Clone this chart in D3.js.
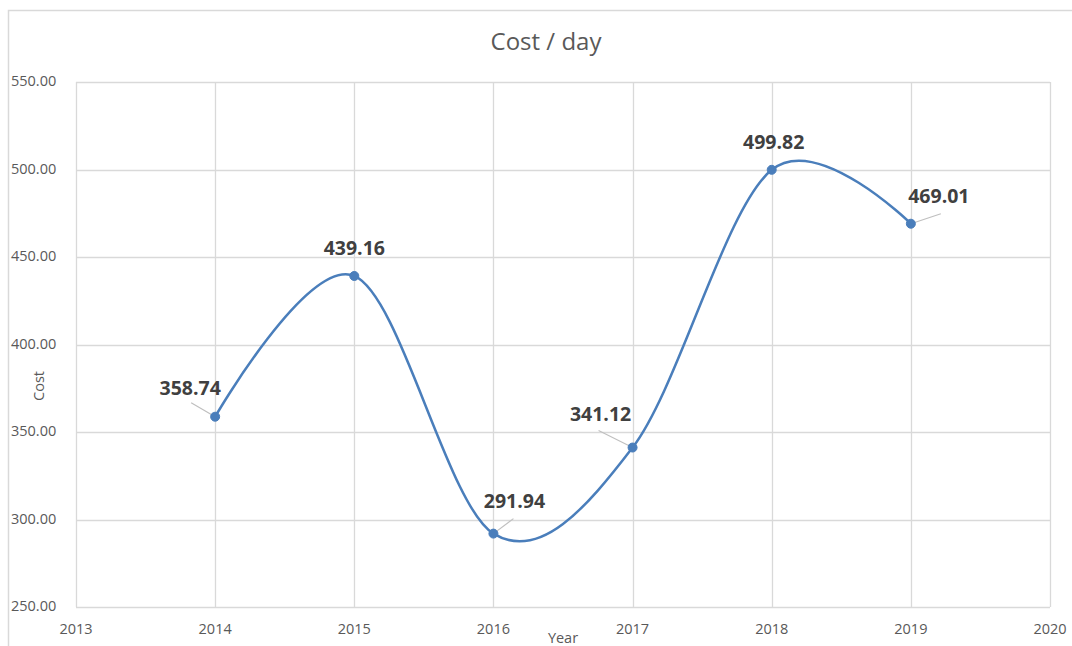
<!DOCTYPE html>
<html>
<head>
<meta charset="utf-8">
<script src="https://cdn.jsdelivr.net/npm/d3@7"></script>
<style>
  html, body { margin: 0; padding: 0; background: #fff; }
  svg text { font-family: "Open Sans", "Noto Sans", sans-serif; }
</style>
</head>
<body>
<svg id="chart" width="1072" height="646"></svg>
<script>
// Yearly cost per day
const years = [2014, 2015, 2016, 2017, 2018, 2019];
const costs = [358.74, 439.16, 291.94, 341.12, 499.82, 469.01];
const xTicks = [2013, 2014, 2015, 2016, 2017, 2018, 2019, 2020];
const yTicks = [250, 300, 350, 400, 450, 500, 550];

// label placement around each point: [dx, dy] of the label centre,
// and the far end of the leader line (or null when there is none)
const labelLayout = [
  { dx: -25, dy: -29, lead: [-24, -14] },
  { dx: 0,   dy: -28, lead: null },
  { dx: 21,  dy: -32, lead: [20, -15] },
  { dx: -32, dy: -33, lead: [-34, -17] },
  { dx: 2,   dy: -28, lead: null },
  { dx: 28,  dy: -28, lead: [30, -10] }
];

const svg = d3.select("#chart");
const plot = { left: 76, right: 1050, top: 82, bottom: 607 };

const x = d3.scaleLinear().domain([2013, 2020]).range([plot.left, plot.right]);
const y = d3.scaleLinear().domain([250, 550]).range([plot.bottom, plot.top]);

const grid = "#d9d9d9";
const textGrey = "#595959";
const blue = "#4a7ebb";

// chart frame
svg.append("path")
  .attr("d", "M8.5,646 V10.5 H1072")
  .attr("fill", "none").attr("stroke", grid).attr("stroke-width", 1.5);

// gridlines
svg.append("g").selectAll("line").data(xTicks).join("line")
  .attr("x1", d => Math.round(x(d)) + 0.5).attr("x2", d => Math.round(x(d)) + 0.5)
  .attr("y1", plot.top).attr("y2", plot.bottom)
  .attr("stroke", grid).attr("stroke-width", 1.3);
svg.append("g").selectAll("line").data(yTicks).join("line")
  .attr("y1", d => Math.round(y(d)) + 0.5).attr("y2", d => Math.round(y(d)) + 0.5)
  .attr("x1", plot.left).attr("x2", plot.right)
  .attr("stroke", grid).attr("stroke-width", 1.3);

// y tick labels
svg.append("g").selectAll("text").data(yTicks).join("text")
  .attr("x", 11).attr("y", d => y(d) - 1)
  .attr("dy", "0.35em")
  .attr("font-size", 14.5).attr("fill", textGrey)
  .text(d => d3.format(".2f")(d));

// x tick labels
svg.append("g").selectAll("text").data(xTicks).join("text")
  .attr("x", d => x(d)).attr("y", 629)
  .attr("dy", "0.35em").attr("text-anchor", "middle")
  .attr("font-size", 14.5).attr("fill", textGrey)
  .text(d => d);

// axis titles
svg.append("text").attr("x", 563).attr("y", 638).attr("dy", "0.35em")
  .attr("text-anchor", "middle").attr("font-size", 14.5).attr("fill", textGrey)
  .text("Year");
svg.append("text").attr("transform", "translate(39,386) rotate(-90)")
  .attr("dy", "0.35em").attr("text-anchor", "middle")
  .attr("font-size", 14.5).attr("fill", textGrey)
  .text("Cost");

// title
svg.append("text").attr("x", 546).attr("y", 42).attr("dy", "0.35em")
  .attr("text-anchor", "middle").attr("font-size", 24).attr("fill", textGrey)
  .text("Cost / day");

const pts = years.map((yr, i) => ({ yr, v: costs[i], lay: labelLayout[i] }));

// smoothed series line
const line = d3.line().x(d => x(d.yr)).y(d => y(d.v)).curve(d3.curveCardinal.tension(0));
svg.append("path").datum(pts)
  .attr("d", line).attr("fill", "none")
  .attr("stroke", blue).attr("stroke-width", 2.5);

// leader lines
svg.append("g").selectAll("line").data(pts.filter(d => d.lay.lead)).join("line")
  .attr("x1", d => x(d.yr)).attr("y1", d => y(d.v))
  .attr("x2", d => x(d.yr) + d.lay.lead[0])
  .attr("y2", d => y(d.v) + d.lay.lead[1])
  .attr("stroke", "#bfbfbf").attr("stroke-width", 1.2);

// markers
svg.append("g").selectAll("circle").data(pts).join("circle")
  .attr("cx", d => x(d.yr)).attr("cy", d => y(d.v)).attr("r", 4.5)
  .attr("fill", blue).attr("stroke", blue);

// data labels
svg.append("g").selectAll("text").data(pts).join("text")
  .attr("x", d => x(d.yr) + d.lay.dx).attr("y", d => y(d.v) + d.lay.dy)
  .attr("dy", "0.35em").attr("text-anchor", "middle")
  .attr("font-size", 19.5).attr("font-weight", "bold").attr("fill", "#404040")
  .text(d => d3.format(".2f")(d.v));
</script>
</body>
</html>
